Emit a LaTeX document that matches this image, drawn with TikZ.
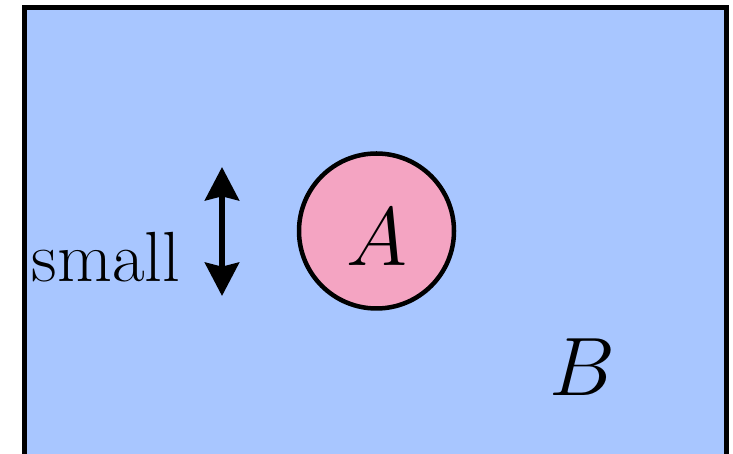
\documentclass[tikz,border=0pt]{standalone}
\usepackage{amsmath}
\usetikzlibrary{arrows.meta}
\definecolor{regionblue}{RGB}{168,198,255}
\definecolor{diskpink}{RGB}{244,164,194}

\begin{document}
\begin{tikzpicture}[
  x=0.3pt, y=-0.3pt,
  region/.style={draw, line width=1.5pt, fill=regionblue},
  disk/.style={circle, draw, line width=1.35pt, fill=diskpink, minimum size=46.5pt, inner sep=0pt},
  lbl/.style={anchor=base, inner sep=0pt},
  arr/.style={line width=1.8pt, {Stealth[length=10pt, width=10.2pt, inset=1.2pt]}-{Stealth[length=10pt, width=10.2pt, inset=1.2pt]}}
]
\useasboundingbox (0,0) rectangle (733,454);
\draw[region] (24.5,7.5) rectangle (726,480);
\node[disk] (A) at (376.5,231) {};
\node[lbl, font=\fontsize{31}{37}\selectfont] (Alabel) at (376.5,266) {$A$};
\node[lbl, font=\fontsize{28.5}{34}\selectfont] (B) at (582.5,396) {$B$};
\node[lbl, font=\fontsize{21.3}{26}\selectfont] (small) at (106,281.7) {small};
\coordinate (up) at (222,167);
\coordinate (down) at (222,296);
\draw[arr] (up) -- (down);
\end{tikzpicture}
\end{document}
